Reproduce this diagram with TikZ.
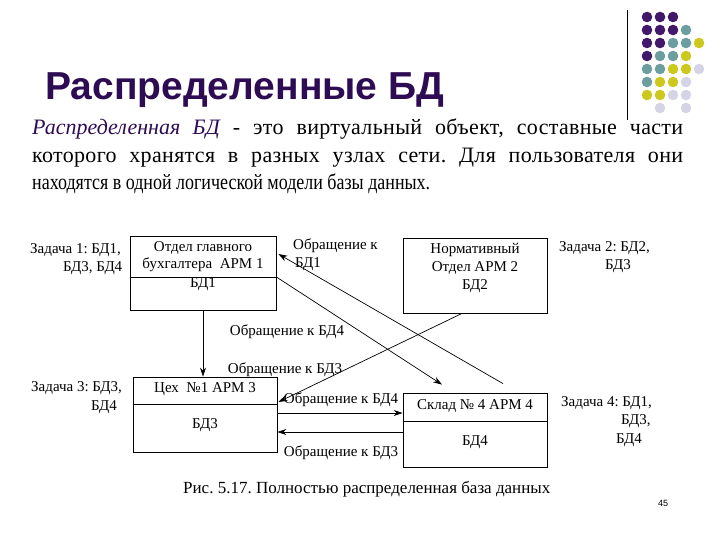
\documentclass[tikz,border=0pt]{standalone}
\usepackage{fontspec}
\setmainfont{Liberation Serif}
\newfontfamily\titlefont{Liberation Sans}
\usetikzlibrary{arrows.meta}
\frenchspacing
\definecolor{tpurple}{RGB}{46,12,84}
\definecolor{dpurple}{RGB}{66,24,106}
\definecolor{dteal}{RGB}{108,158,160}
\definecolor{dyellow}{RGB}{204,200,30}
\definecolor{dlav}{RGB}{212,212,230}
\tikzset{
  box/.style={draw, line width=0.8pt, minimum width=#1, inner sep=0pt},
  dtxt/.style={font=\fontsize{15}{17}\selectfont, inner sep=0pt},
  arr/.style={line width=0.7pt, -{Stealth[length=9pt,width=6pt]}},
  bodytxt/.style={anchor=base west, inner sep=0pt, font=\fontsize{22}{24}\selectfont}
}
\begin{document}
\begin{tikzpicture}[x=1pt,y=-1pt]
\useasboundingbox (0,0) rectangle (720,540);
% decorative dots
\foreach \i/\r/\c in {0/0/dpurple,1/0/dpurple,2/0/dpurple,
  0/1/dpurple,1/1/dpurple,2/1/dpurple,3/1/dteal,
  0/2/dpurple,1/2/dpurple,2/2/dteal,3/2/dteal,4/2/dyellow,
  0/3/dpurple,1/3/dteal,2/3/dteal,3/3/dyellow,
  0/4/dteal,1/4/dteal,2/4/dyellow,3/4/dyellow,4/4/dlav,
  0/5/dteal,1/5/dyellow,2/5/dyellow,3/5/dlav,
  0/6/dyellow,1/6/dyellow,2/6/dlav,3/6/dlav,
  1/7/dlav,3/7/dlav}{
  \fill[\c] (647+13*\i,17+13*\r) circle (5.3pt);
}
\draw[line width=0.8pt] (627,10) -- (627,120);
% title
\node[anchor=base west, inner sep=0pt, text=tpurple, font=\titlefont\bfseries\fontsize{39}{41}\selectfont] (title) at (45,100) {Распределенные БД};
% body text
\node[bodytxt] (l1) at (32,135) {\addfontfeatures{LetterSpace=1.5}\makebox[651pt][s]{\textcolor{tpurple}{\itshape\addfontfeatures{LetterSpace=0}Распределенная БД} - это виртуальный объект, составные части}};
\node[bodytxt] (l2) at (32,162.5) {\addfontfeatures{LetterSpace=1.5}\makebox[651pt][s]{которого хранятся в разных узлах сети. Для пользователя они}};
\node[bodytxt] (l3) at (32,190) {\resizebox{398pt}{\height}{находятся в одной логической модели базы данных.}};
% boxes
\node[box=146pt, minimum height=74pt] (b1) at (203,273) {};
\node[box=144pt, minimum height=75pt] (b2) at (475,275.5) {};
\node[box=144pt, minimum height=75pt] (b3) at (205,414.5) {};
\node[box=144pt, minimum height=74pt] (b4) at (475,430) {};
\draw[line width=0.8pt] ([yshift=-4pt]b1.west) -- ([yshift=-4pt]b1.east);
\draw[line width=0.8pt] ([yshift=10.5pt]b3.west) -- ([yshift=10.5pt]b3.east);
\draw[line width=0.8pt] ([yshift=9pt]b4.west) -- ([yshift=9pt]b4.east);
% box texts
\node[dtxt] (t11) at (203,247.5) {Отдел главного};
\node[dtxt] (t12) at (203,265) {бухгалтера\ \ АРМ 1};
\node[dtxt] (t13) at (203,284) {БД1};
\node[dtxt] (t21) at (475,250) {Нормативный};
\node[dtxt] (t22) at (475,268) {Отдел АРМ 2};
\node[dtxt] (t23) at (475,286) {БД2};
\node[dtxt] (t31) at (205,389) {Цех\ \ №1 АРМ 3};
\node[dtxt] (t32) at (205,425) {БД3};
\node[dtxt] (t41) at (475,406) {Склад № 4 АРМ 4};
\node[dtxt] (t42) at (475,442) {БД4};
% task labels
\node[dtxt, anchor=west] (z1a) at (30,250) {Задача 1: БД1,};
\node[dtxt, anchor=west] (z1b) at (63,268) {БД3, БД4};
\node[dtxt, anchor=west] (z2a) at (559,248) {Задача 2: БД2,};
\node[dtxt, anchor=west] (z2b) at (605,266) {БД3};
\node[dtxt, anchor=west] (z3a) at (31,388) {Задача 3: БД3,};
\node[dtxt, anchor=west] (z3b) at (91,407) {БД4};
\node[dtxt, anchor=west] (z4a) at (561,403) {Задача 4: БД1,};
\node[dtxt, anchor=west] (z4b) at (621,421) {БД3,};
\node[dtxt, anchor=west] (z4c) at (616,440) {БД4};
% connector labels
\node[dtxt, anchor=west] (o1a) at (293,246) {Обращение к};
\node[dtxt, anchor=west] (o1b) at (295,264) {БД1};
\node[dtxt] (o2) at (287,332) {Обращение к БД4};
\node[dtxt] (o3) at (285,370) {Обращение к БД3};
\node[dtxt] (o4) at (341,400) {Обращение к БД4};
\node[dtxt] (o5) at (341,453) {Обращение к БД3};
% connectors
\draw[arr] (b1.south) -- (b1.south |- b3.north);
\draw[arr] ([yshift=-4pt]b1.east) -- ([xshift=-33pt,yshift=8pt]b4.north);
\draw[arr] ([xshift=28pt,yshift=9pt]b4.north) -- ([xshift=2pt,yshift=19pt]b1.east);
\draw[arr] ([xshift=-13pt]b2.south) -- ([xshift=1pt,yshift=12.5pt]b3.east);
\draw[arr] ([yshift=1.5pt]b3.east) -- ([yshift=1.5pt]b3.east -| b4.west);
\draw[arr] ([yshift=-2pt]b4.west) -- ([yshift=-2pt]b4.west -| b3.east);
% caption
\node[anchor=west, inner sep=0pt, font=\fontsize{17}{20}\selectfont] (cap) at (183,489) {Рис. 5.17. Полностью распределенная база данных};
\node[inner sep=0pt, font=\titlefont\fontsize{9}{10}\selectfont] (pg) at (663,503) {45};
\end{tikzpicture}
\end{document}
